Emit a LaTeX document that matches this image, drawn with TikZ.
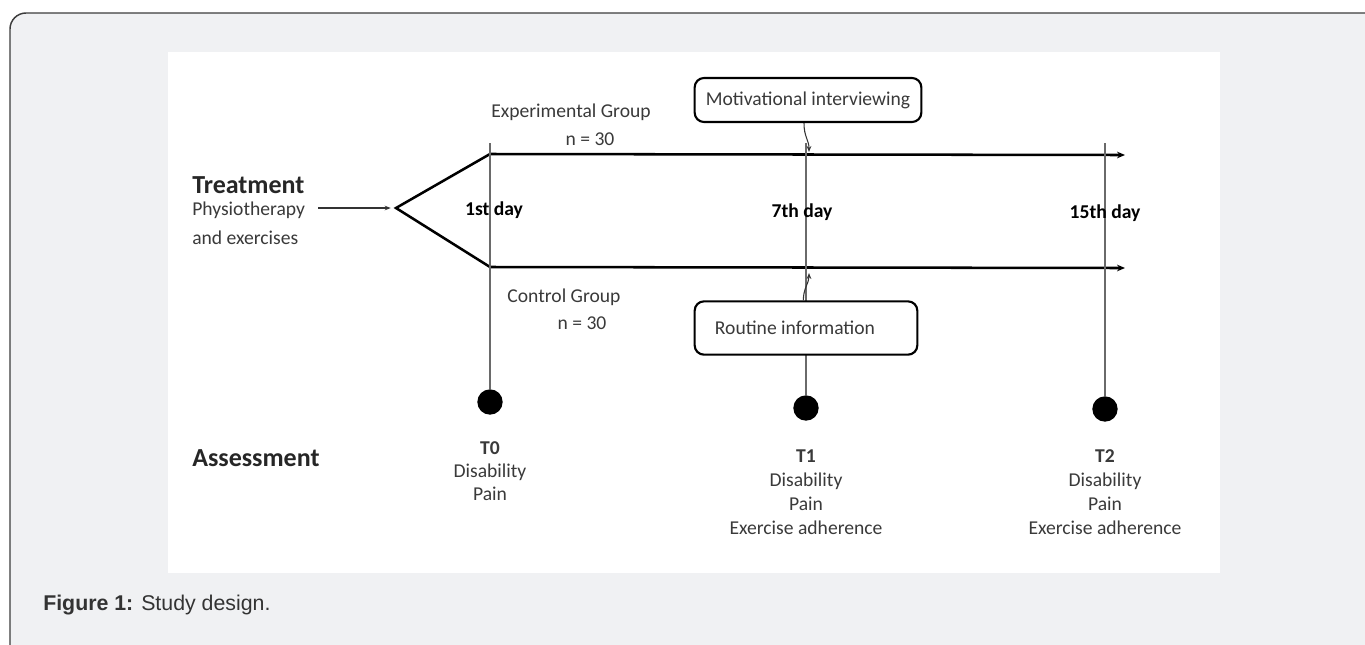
\documentclass[tikz,border=0pt]{standalone}
\usepackage{fontspec}
\setmainfont{Carlito}
\newfontfamily\capfont{Liberation Sans}
\usetikzlibrary{arrows.meta}
\definecolor{bg}{HTML}{F0F1F3}
\definecolor{frame}{HTML}{3C3C3C}
\definecolor{txt}{HTML}{3A3A3A}
\definecolor{vline}{HTML}{6A6A6A}
\begin{document}
\begin{tikzpicture}[x=0.75pt,y=-0.75pt,
  lbl/.style={font=\fontsize{14.7}{18}\selectfont, text=txt, inner sep=0pt},
  dlbl/.style={font=\bfseries\fontsize{14.7}{18}\selectfont, text=black, inner sep=0pt},
  head/.style={font=\bfseries\fontsize{19.5}{22}\selectfont, text=black!85, inner sep=0pt, anchor=west},
  tlbl/.style={lbl, align=center, anchor=north},
  ibox/.style={draw=black, fill=white, line width=1.6pt, rounded corners=7pt, minimum height=33pt, inner sep=0pt},
  mainline/.style={line width=1.9pt, black},
  tick/.style={line width=0.8pt, vline},
  tip/.style={-{Stealth[length=6pt,width=5pt]}},
  smalltip/.style={-{Stealth[length=4.5pt,width=3.5pt]}},
  dot/.style={circle, fill=black, minimum size=19pt, inner sep=0pt},
  conn/.style={line width=0.8pt, black!80}
]
\useasboundingbox (0,0) rectangle (1365,644);
\begin{scope}
\clip (0,0) rectangle (1365,644);
\fill[bg, rounded corners=12pt] (10,700) -- (10,13) -- (1400,13) -- (1400,700) -- cycle;
\draw[frame, line width=1.1pt, rounded corners=12pt]
  (10,700) -- (10,13) -- (1400,13);
\end{scope}
\fill[white] (168,52) rectangle (1220,573);

% headings
\node[head] (treat) at (192,185) {Treatment};
\node[lbl, anchor=west] (physio) at (192,210) {Physiotherapy};
\node[lbl, anchor=west] (andex) at (192,238) {and exercises};
\node[head] (assess) at (192,458) {Assessment};

% chevron and timelines
\coordinate (tip) at (396,208);
\coordinate (up) at (490,154);
\coordinate (lo) at (490,267);
\coordinate (upend) at (1125,155);
\coordinate (loend) at (1125,268);
\coordinate (instart) at (318,208);
\draw[mainline, line join=miter] (up) -- (tip) -- (lo);
\draw[tip, mainline] (up) -- (upend);
\draw[tip, mainline] (lo) -- (loend);
\draw[smalltip, line width=0.8pt, black!80] (instart) -- ([xshift=-4]tip);

% dots
\node[dot] (d0) at (490,402) {};
\node[dot] (d1) at (806,408) {};
\node[dot] (d2) at (1105,409) {};
\coordinate (v0) at (490,143);
\coordinate (v1) at (806,143);
\coordinate (v2) at (1105,143);
\draw[tick] (v0) -- (d0);
\draw[tick] (v1) -- (d1);
\draw[tick] (v2) -- (d2);

% day labels
\node[dlbl] (day1) at (494,210) {1st day};
\node[dlbl] (day7) at (802,212) {7th day};
\node[dlbl] (day15) at (1105,213) {15th day};

% group labels
\node[lbl] (exp) at (571,112) {Experimental Group};
\node[lbl] (expn) at (590,139) {n = 30};
\node[lbl] (ctl) at (564,297) {Control Group};
\node[lbl] (ctln) at (582,323) {n = 30};

% intervention boxes
\node[ibox, minimum width=170pt] (mot) at (808,100) {};
\node[lbl] (motl) at (mot.center) {Motivational interviewing};
\node[ibox, minimum width=167pt, minimum height=40pt] (rout) at (806,328) {};
\node[lbl] (routl) at (795,328) {Routine information};
\coordinate (ma) at (809,152);
\coordinate (ra) at (809,273);
\draw[conn, smalltip] ([xshift=-3]mot.south) .. controls +(0,14) and +(0,-12) .. (ma);
\draw[conn, smalltip] ([xshift=-2]rout.north) .. controls +(0,-12) and +(0,10) .. (ra);

% assessment labels
\node[tlbl, font=\fontsize{14.7}{17.3}\selectfont] (t0) at (490,441) {\textbf{T0}\\Disability\\Pain};
\node[tlbl] (t1) at (806,449) {\textbf{T1}\\Disability\\Pain\\Exercise adherence};
\node[tlbl] (t2) at (1105,449) {\textbf{T2}\\Disability\\Pain\\Exercise adherence};

% caption
\node[anchor=west, inner sep=0pt, text=black!80, font=\capfont\fontsize{16}{18}\selectfont] (cap) at (43,605) {\textbf{Figure 1:} Study design.};
\end{tikzpicture}
\end{document}
